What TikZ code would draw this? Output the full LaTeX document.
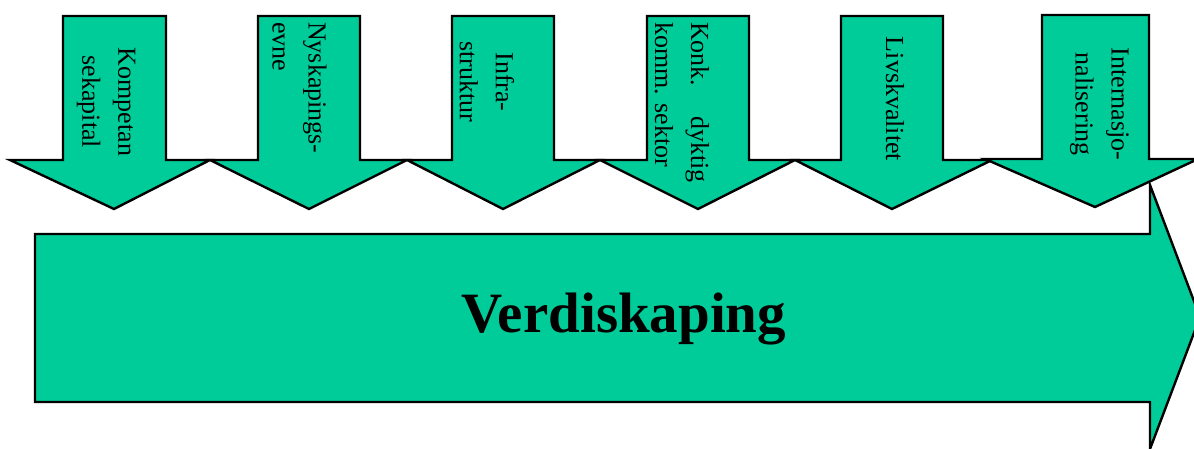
\documentclass[tikz,border=0pt]{standalone}
\usepackage{fontspec}
\setmainfont{Liberation Serif}
\definecolor{arrowgreen}{RGB}{0,204,153}
\begin{document}
\begin{tikzpicture}[x=1pt,y=-1pt,
  shapefill/.style={fill=arrowgreen,draw=black,line width=2.4pt,line join=miter},
  vlabel/.style={rotate=-90,inner sep=0pt,font=\fontsize{26}{36}\selectfont},
  biglabel/.style={inner sep=0pt,font=\fontsize{57}{60}\selectfont\bfseries}]
\useasboundingbox (0,0) rectangle (1194,449);
% big horizontal arrow
\draw[shapefill] (35,234) -- (1150,234) -- (1150,185) -- (1200,317) -- (1150,449) -- (1150,402) -- (35,402) -- cycle;
% down arrows: HL, L, R, HR, TX
\foreach \hl/\l/\r/\hr/\tx/\t/\s/\ty in {10/63/166/210/114/16/160/209, 210/258/360/407/309/16/160/209, 407/452/554/600/503/16/160/209, 600/647/749/795/698/16/160/209, 795/841/943/992/892/16/160/209, 985/1042/1149/1198/1095/15/159/207}
  \draw[shapefill] (\l,\t) -- (\r,\t) -- (\r,\s) -- (\hr,\s) -- (\tx,\ty) -- (\hl,\s) -- (\l,\s) -- cycle;
% labels
\node[vlabel,align=center] (k) at (106,102) {Kompetan\\sekapital};
\node[vlabel,align=left,anchor=west] (n) at (299.5,22) {Nyskapings-\\evne};
\node[vlabel,align=center] (i) at (487,82) {Infra-\\struktur};
\node[vlabel,align=left,anchor=west] (d) at (682,22) {Konk.\hspace{30pt}dyktig\\komm. sektor};
\node[vlabel,align=center] (l) at (895,99) {Livskvalitet};
\node[vlabel,align=center] (t) at (1099.5,104) {Internasjo-\\nalisering};
\node[biglabel,anchor=base] (v) at (624,332) {Verdiskaping};
\end{tikzpicture}
\end{document}
